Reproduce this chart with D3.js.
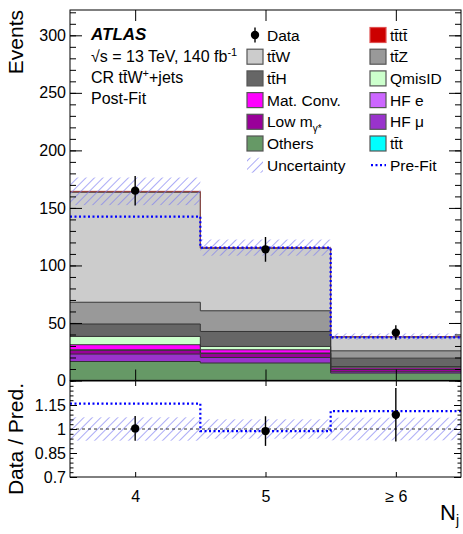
<!DOCTYPE html>
<html>
<head>
<meta charset="utf-8">
<script src="https://cdn.jsdelivr.net/npm/d3@7"></script>
<style>
  body { margin: 0; background: #fff; }
  svg { display: block; font-family: "Liberation Sans", Arial, Helvetica, sans-serif; }
</style>
</head>
<body>
<div id="chart"></div>
<script>
// bins and values
var binLabels = ["4", "5", "\u2265 6"];
var binCenters = [4, 5, 6];
var binEdges = [3.5, 4.5, 5.5, 6.5];

var dataY = [165, 114, 41.6];
var dataErr = [12.8, 10.7, 6.4];

// stack, bottom to top
var ttt = [0.2, 0.2, 0.1];
var others = [16.3, 15.0, 6.3];
var hfMu = [6.5, 4.8, 1.2];
var lowMg = [3.2, 3.4, 2.0];
var hfE = [0.5, 0.5, 0.3];
var matConv = [4.4, 2.8, 1.2];
var qmisID = [7.2, 2.9, 1.0];
var ttH = [10.8, 13.0, 7.3];
var ttZ = [18.9, 18.0, 6.4];
var ttW = [95.7, 54.4, 12.0];
var tttt = [0.7, 0.5, 0.4];

var uncert = [12, 7, 2.7];
var preFit = [142.4, 115.5, 37.4];

var yTicks = [0, 50, 100, 150, 200, 250, 300];
var rTicks = [0.7, 0.85, 1, 1.15];

var samples = [
  {key: "ttt", vals: ttt, color: "#00ffff"},
  {key: "others", vals: others, color: "#669966"},
  {key: "hfMu", vals: hfMu, color: "#9933cc"},
  {key: "lowMg", vals: lowMg, color: "#990099"},
  {key: "hfE", vals: hfE, color: "#cc66ff"},
  {key: "matConv", vals: matConv, color: "#ff00ff"},
  {key: "qmisID", vals: qmisID, color: "#ccffcc"},
  {key: "ttH", vals: ttH, color: "#666666"},
  {key: "ttZ", vals: ttZ, color: "#999999"},
  {key: "ttW", vals: ttW, color: "#cccccc"},
  {key: "tttt", vals: tttt, color: "#cc0000"}
];
var colorOf = {};
samples.forEach(function (s) { colorOf[s.key] = s.color; });

var table = binCenters.map(function (c, i) {
  var row = {bin: c};
  samples.forEach(function (s) { row[s.key] = s.vals[i]; });
  return row;
});
var totals = table.map(function (row) {
  return d3.sum(samples, function (s) { return row[s.key]; });
});

var W = 463, H = 534;
var left = 70, right = 461, mTop = 10, mainBot = 380.5, ratTop = 381, ratBot = 477;

var x = d3.scaleLinear().domain([3.5, 6.5]).range([left, right]);
var y = d3.scaleLinear().domain([0, 322]).range([mainBot, mTop]);
var r = d3.scaleLinear().domain([0.7, 1.3]).range([ratBot, ratTop]);

var svg = d3.select("#chart").append("svg")
    .attr("width", W)
    .attr("height", H);

var defs = svg.append("defs");
var hatch = defs.append("pattern")
    .attr("id", "hatch")
    .attr("patternUnits", "userSpaceOnUse")
    .attr("width", 6)
    .attr("height", 6)
    .attr("patternTransform", "rotate(45)");
hatch.append("line")
    .attr("x1", 0).attr("y1", 0).attr("x2", 0).attr("y2", 6)
    .attr("stroke", "#7d7df2")
    .attr("stroke-width", 1.3);

defs.append("clipPath").attr("id", "clipMain")
  .append("rect").attr("x", left).attr("y", mTop)
    .attr("width", right - left).attr("height", mainBot - mTop);
defs.append("clipPath").attr("id", "clipRat")
  .append("rect").attr("x", left).attr("y", ratTop)
    .attr("width", right - left).attr("height", ratBot - ratTop);

// step helpers: one point per bin edge, last value repeated
function stepPoints(vals) {
  var pts = binEdges.slice(0, 3).map(function (e, i) { return [e, vals[i]]; });
  pts.push([binEdges[3], vals[2]]);
  return pts;
}

var series = d3.stack().keys(samples.map(function (s) { return s.key; }))(table);

var main = svg.append("g").attr("clip-path", "url(#clipMain)");

var area = d3.area()
    .x(function (d) { return x(d[0]); })
    .y0(function (d) { return y(d[1]); })
    .y1(function (d) { return y(d[2]); })
    .curve(d3.curveStepAfter);

var stepLine = d3.line()
    .x(function (d) { return x(d[0]); })
    .y(function (d) { return y(d[1]); })
    .curve(d3.curveStepAfter);

series.forEach(function (s) {
  var pts = binEdges.slice(0, 3).map(function (e, i) { return [e, s[i][0], s[i][1]]; });
  pts.push([binEdges[3], s[2][0], s[2][1]]);
  main.append("path")
      .attr("d", area(pts))
      .attr("fill", colorOf[s.key]);
});
series.forEach(function (s) {
  var tops = s.map(function (d) { return d[1]; });
  main.append("path")
      .attr("d", stepLine(stepPoints(tops)))
      .attr("fill", "none")
      .attr("stroke", s.key === "tttt" ? "#9a4a44" : "#333")
      .attr("stroke-width", s.key === "tttt" ? 0.9 : 1);
});

// uncertainty band
main.selectAll("rect.unc")
  .data(totals)
  .enter().append("rect")
    .attr("class", "unc")
    .attr("x", function (d, i) { return x(binEdges[i]); })
    .attr("width", function (d, i) { return x(binEdges[i + 1]) - x(binEdges[i]); })
    .attr("y", function (d, i) { return y(d + uncert[i]); })
    .attr("height", function (d, i) { return y(d - uncert[i]) - y(d + uncert[i]); })
    .attr("fill", "url(#hatch)");

// pre-fit
main.append("path")
    .attr("d", stepLine(stepPoints(preFit)))
    .attr("fill", "none")
    .attr("stroke", "#0000ff")
    .attr("stroke-width", 2.2)
    .attr("stroke-dasharray", "2,2.5");

// data
main.selectAll("line.err")
  .data(dataY)
  .enter().append("line")
    .attr("x1", function (d, i) { return x(binCenters[i]); })
    .attr("x2", function (d, i) { return x(binCenters[i]); })
    .attr("y1", function (d, i) { return y(d - dataErr[i]); })
    .attr("y2", function (d, i) { return y(d + dataErr[i]); })
    .attr("stroke", "#000").attr("stroke-width", 1.4);
main.selectAll("circle.pt")
  .data(dataY)
  .enter().append("circle")
    .attr("cx", function (d, i) { return x(binCenters[i]); })
    .attr("cy", function (d) { return y(d); })
    .attr("r", 4.2)
    .attr("fill", "#000");

// ratio panel
var rat = svg.append("g").attr("clip-path", "url(#clipRat)");
var rLine = d3.line()
    .x(function (d) { return x(d[0]); })
    .y(function (d) { return r(d[1]); })
    .curve(d3.curveStepAfter);

rat.selectAll("rect.runc")
  .data(totals)
  .enter().append("rect")
    .attr("x", function (d, i) { return x(binEdges[i]); })
    .attr("width", function (d, i) { return x(binEdges[i + 1]) - x(binEdges[i]); })
    .attr("y", function (d, i) { return r(1 + uncert[i] / d); })
    .attr("height", function (d, i) { return r(1 - uncert[i] / d) - r(1 + uncert[i] / d); })
    .attr("fill", "url(#hatch)");

rat.append("line")
    .attr("x1", left).attr("x2", right)
    .attr("y1", r(1)).attr("y2", r(1))
    .attr("stroke", "#000").attr("stroke-width", 0.8)
    .attr("stroke-dasharray", "3,3");

var preRatio = dataY.map(function (d, i) { return d / preFit[i]; });
rat.append("path")
    .attr("d", rLine(stepPoints(preRatio)))
    .attr("fill", "none")
    .attr("stroke", "#0000ff")
    .attr("stroke-width", 2.2)
    .attr("stroke-dasharray", "2,2.5");

var dataRatio = dataY.map(function (d, i) { return d / totals[i]; });
rat.selectAll("line.rerr")
  .data(dataRatio)
  .enter().append("line")
    .attr("x1", function (d, i) { return x(binCenters[i]); })
    .attr("x2", function (d, i) { return x(binCenters[i]); })
    .attr("y1", function (d, i) { return r(d - dataErr[i] / totals[i]); })
    .attr("y2", function (d, i) { return r(d + dataErr[i] / totals[i]); })
    .attr("stroke", "#000").attr("stroke-width", 1.4);
rat.selectAll("circle.rpt")
  .data(dataRatio)
  .enter().append("circle")
    .attr("cx", function (d, i) { return x(binCenters[i]); })
    .attr("cy", function (d) { return r(d); })
    .attr("r", 4.2)
    .attr("fill", "#000");

// axes, ticks pointing inwards like ROOT
function styleAxis(g) {
  g.select(".domain").remove();
  g.selectAll(".tick line").attr("stroke", "#000").attr("stroke-width", 1);
  g.selectAll(".tick text").attr("font-size", 16).attr("fill", "#000")
      .attr("font-family", "Liberation Sans, Arial, sans-serif");
}

svg.append("g").attr("transform", "translate(" + left + ",0)")
    .call(d3.axisLeft(y).tickValues(yTicks).tickSize(-12).tickPadding(4))
    .call(styleAxis);
svg.append("g").attr("transform", "translate(" + left + ",0)")
    .call(d3.axisLeft(y).tickValues(d3.range(0, 321, 10)).tickSize(-6).tickFormat(""))
    .call(styleAxis);
svg.append("g").attr("transform", "translate(" + right + ",0)")
    .call(d3.axisRight(y).tickValues(yTicks).tickSize(-12).tickFormat(""))
    .call(styleAxis);
svg.append("g").attr("transform", "translate(" + right + ",0)")
    .call(d3.axisRight(y).tickValues(d3.range(0, 321, 10)).tickSize(-6).tickFormat(""))
    .call(styleAxis);
svg.append("g").attr("transform", "translate(0," + mTop + ")")
    .call(d3.axisTop(x).tickValues(binCenters).tickSize(-11).tickFormat(""))
    .call(styleAxis);
svg.append("g").attr("transform", "translate(0," + mainBot + ")")
    .call(d3.axisBottom(x).tickValues(binCenters).tickSize(-11).tickFormat(""))
    .call(styleAxis);

svg.append("g").attr("transform", "translate(" + left + ",0)")
    .call(d3.axisLeft(r).tickValues(rTicks).tickSize(-7).tickPadding(4)
      .tickFormat(function (d) { return String(d); }))
    .call(styleAxis);
svg.append("g").attr("transform", "translate(" + left + ",0)")
    .call(d3.axisLeft(r).tickValues(d3.range(0, 21).map(function (k) { return 0.7 + k * 0.03; }))
      .tickSize(-3.5).tickFormat(""))
    .call(styleAxis);
svg.append("g").attr("transform", "translate(" + right + ",0)")
    .call(d3.axisRight(r).tickValues(rTicks).tickSize(-7).tickFormat(""))
    .call(styleAxis);
svg.append("g").attr("transform", "translate(" + right + ",0)")
    .call(d3.axisRight(r).tickValues(d3.range(0, 21).map(function (k) { return 0.7 + k * 0.03; }))
      .tickSize(-3.5).tickFormat(""))
    .call(styleAxis);
svg.append("g").attr("transform", "translate(0," + ratTop + ")")
    .call(d3.axisTop(x).tickValues(binCenters).tickSize(-5).tickFormat(""))
    .call(styleAxis);
svg.append("g").attr("transform", "translate(0," + ratBot + ")")
    .call(d3.axisBottom(x).tickValues(binCenters).tickSize(-5).tickPadding(14)
      .tickFormat(function (d, i) { return binLabels[i]; }))
    .call(styleAxis);

// frames
svg.append("rect").attr("x", left).attr("y", mTop)
    .attr("width", right - left).attr("height", mainBot - mTop)
    .attr("fill", "none").attr("stroke", "#000").attr("stroke-width", 1);
svg.append("rect").attr("x", left).attr("y", ratTop)
    .attr("width", right - left).attr("height", ratBot - ratTop)
    .attr("fill", "none").attr("stroke", "#000").attr("stroke-width", 1);

// axis titles
svg.append("text")
    .attr("transform", "translate(23," + mTop + ") rotate(-90)")
    .attr("text-anchor", "end")
    .attr("font-size", 21)
    .text("Events");
svg.append("text")
    .attr("transform", "translate(23," + (ratTop + 2) + ") rotate(-90)")
    .attr("text-anchor", "end")
    .attr("font-size", 21)
    .text("Data / Pred.");
var nj = svg.append("text")
    .attr("x", 459).attr("y", 520)
    .attr("text-anchor", "end")
    .attr("font-size", 22);
nj.append("tspan").text("N");
nj.append("tspan").attr("font-size", 14).attr("dy", 5).text("j");

// ATLAS label
svg.append("text").attr("x", 91).attr("y", 40)
    .attr("font-size", 17).attr("font-weight", "bold").attr("font-style", "italic")
    .text("ATLAS");
var t1 = svg.append("text").attr("x", 91).attr("y", 62).attr("font-size", 16);
t1.append("tspan").text("\u221as = 13 TeV, 140 fb");
t1.append("tspan").attr("font-size", 11).attr("dy", -6).text("-1");
var t2 = svg.append("text").attr("x", 91).attr("y", 83).attr("font-size", 16);
t2.append("tspan").text("CR tt\u0304W");
t2.append("tspan").attr("font-size", 11).attr("dy", -6).text("+");
t2.append("tspan").attr("dy", 6).text("+jets");
svg.append("text").attr("x", 91).attr("y", 104).attr("font-size", 16).text("Post-Fit");

// legend
var legRow0 = 35, legStep = 21.7;
var legend = [
  {col: 0, row: 0, type: "data", label: ["Data"]},
  {col: 1, row: 0, key: "tttt", label: ["tt\u0304tt\u0304"]},
  {col: 0, row: 1, key: "ttW", label: ["tt\u0304W"]},
  {col: 1, row: 1, key: "ttZ", label: ["tt\u0304Z"]},
  {col: 0, row: 2, key: "ttH", label: ["tt\u0304H"]},
  {col: 1, row: 2, key: "qmisID", label: ["QmisID"]},
  {col: 0, row: 3, key: "matConv", label: ["Mat. Conv."]},
  {col: 1, row: 3, key: "hfE", label: ["HF e"]},
  {col: 0, row: 4, key: "lowMg", label: ["Low m", "\u03b3*"]},
  {col: 1, row: 4, key: "hfMu", label: ["HF \u03bc"]},
  {col: 0, row: 5, key: "others", label: ["Others"]},
  {col: 1, row: 5, key: "ttt", label: ["tt\u0304t"]},
  {col: 0, row: 6, type: "unc", label: ["Uncertainty"]},
  {col: 1, row: 6, type: "pre", label: ["Pre-Fit"]}
];
var colBox = [247, 370];

legend.forEach(function (e) {
  var cy = legRow0 + e.row * legStep;
  var bx = colBox[e.col];
  var g = svg.append("g");
  if (e.type === "data") {
    g.append("line").attr("x1", bx + 8).attr("x2", bx + 8)
        .attr("y1", cy - 7.5).attr("y2", cy + 7.5)
        .attr("stroke", "#000").attr("stroke-width", 1.4);
    g.append("circle").attr("cx", bx + 8).attr("cy", cy).attr("r", 4.2).attr("fill", "#000");
  } else if (e.type === "unc") {
    g.append("rect").attr("x", bx).attr("y", cy - 7.5).attr("width", 16).attr("height", 15)
        .attr("fill", "url(#hatch)");
  } else if (e.type === "pre") {
    g.append("line").attr("x1", bx + 1).attr("x2", bx + 16)
        .attr("y1", cy).attr("y2", cy)
        .attr("stroke", "#0000ff").attr("stroke-width", 2.2)
        .attr("stroke-dasharray", "2,2.5");
  } else {
    g.append("rect").attr("x", bx).attr("y", cy - 7.5).attr("width", 16).attr("height", 15)
        .attr("fill", colorOf[e.key])
        .attr("stroke", e.key === "tttt" ? "#e05050" : "#555")
        .attr("stroke-width", 1.2);
  }
  var t = g.append("text").attr("x", bx + 20).attr("y", cy + 5.6).attr("font-size", 15.5);
  t.append("tspan").text(e.label[0]);
  if (e.label[1]) {
    t.append("tspan").attr("font-size", 10).attr("dy", 5).text(e.label[1]);
  }
});
</script>
</body>
</html>
